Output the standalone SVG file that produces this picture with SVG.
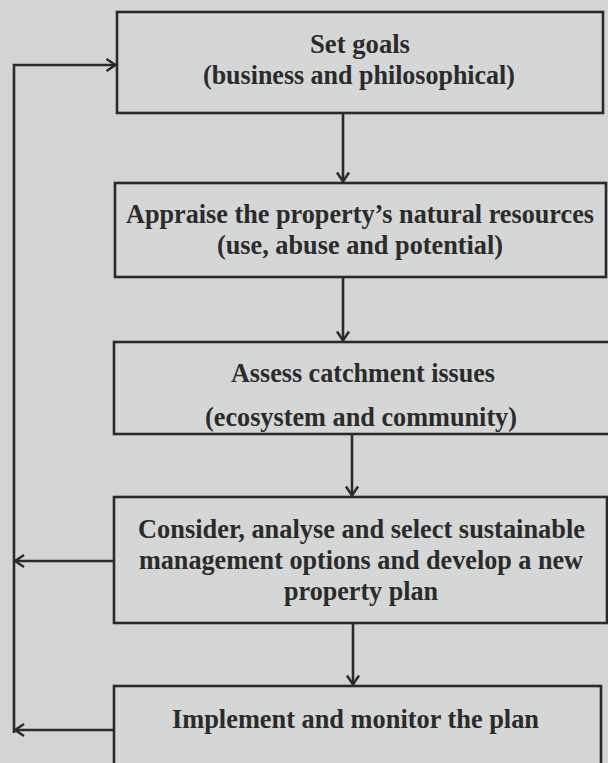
<svg xmlns="http://www.w3.org/2000/svg" width="608" height="763" viewBox="0 0 608 763">
  <defs>
    <marker id="chev" markerUnits="userSpaceOnUse" markerWidth="20" markerHeight="20" refX="0" refY="0" viewBox="-12 -10 14 20" orient="auto" overflow="visible">
      <path d="M-9,-6 L0,0 L-9,6" fill="none" stroke="#2a2a2a" stroke-width="2.4" stroke-linejoin="miter"/>
    </marker>
    <style>
      .box { fill: #d5d6d6; stroke: #2a2a2a; stroke-width: 2.6; }
      .lbl { font-family: "Liberation Serif", "Times New Roman", serif; font-weight: bold; font-size: 27px; fill: #2b2b2b; text-anchor: middle; }
      .wire { fill: none; stroke: #2a2a2a; stroke-width: 2.6; }
    </style>
  </defs>

  <rect x="0" y="0" width="608" height="763" fill="#d3d4d6"/>

  <!-- process steps -->
  <g id="set-goals">
    <rect class="box" x="117" y="12" width="486" height="101"/>
    <text class="lbl" x="360" y="53" textLength="100" lengthAdjust="spacingAndGlyphs">Set goals</text>
    <text class="lbl" x="359" y="84" textLength="312" lengthAdjust="spacingAndGlyphs">(business and philosophical)</text>
  </g>

  <g id="appraise">
    <rect class="box" x="115" y="183" width="491" height="94"/>
    <text class="lbl" x="360" y="223" textLength="468" lengthAdjust="spacingAndGlyphs">Appraise the property’s natural resources</text>
    <text class="lbl" x="360" y="254" textLength="286" lengthAdjust="spacingAndGlyphs">(use, abuse and potential)</text>
  </g>

  <g id="assess">
    <rect class="box" x="114" y="342" width="500" height="92"/>
    <text class="lbl" x="363" y="382" textLength="264" lengthAdjust="spacingAndGlyphs">Assess catchment issues</text>
    <text class="lbl" x="361" y="426" textLength="312" lengthAdjust="spacingAndGlyphs">(ecosystem and community)</text>
  </g>

  <g id="consider">
    <rect class="box" x="114" y="497" width="493" height="126"/>
    <text class="lbl" x="361.5" y="538" textLength="447" lengthAdjust="spacingAndGlyphs">Consider, analyse and select sustainable</text>
    <text class="lbl" x="361" y="569" textLength="444" lengthAdjust="spacingAndGlyphs">management options and develop a new</text>
    <text class="lbl" x="361" y="600" textLength="154" lengthAdjust="spacingAndGlyphs">property plan</text>
  </g>

  <g id="implement">
    <rect class="box" x="114" y="686" width="487" height="90"/>
    <text class="lbl" x="355.5" y="728" textLength="367" lengthAdjust="spacingAndGlyphs">Implement and monitor the plan</text>
  </g>

  <!-- connectors -->
  <g id="connectors">
    <path class="wire" d="M343,113 V181.5" marker-end="url(#chev)"/>
    <path class="wire" d="M343,277 V340.5" marker-end="url(#chev)"/>
    <path class="wire" d="M352,434 V495.5" marker-end="url(#chev)"/>
    <path class="wire" d="M353,623 V684.5" marker-end="url(#chev)"/>
    <path class="wire" d="M114,561 H15" marker-end="url(#chev)"/>
    <path class="wire" d="M114,730 H15" marker-end="url(#chev)"/>
    <path class="wire" d="M14,733 V65 H115.5" marker-end="url(#chev)"/>
  </g>
</svg>
